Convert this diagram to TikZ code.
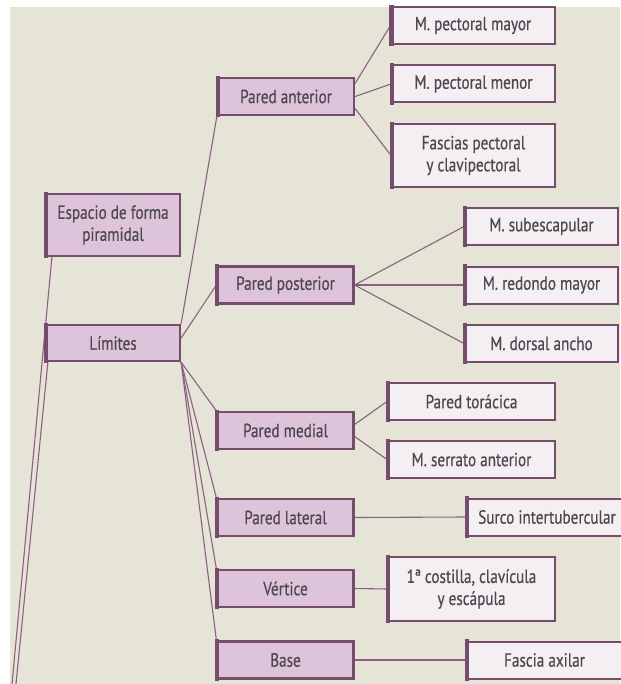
\documentclass[tikz,border=0pt]{standalone}
\usepackage{fontspec}
\setmainfont{PT Sans}[FakeStretch=0.8, FakeBold=0.5]
\definecolor{paper}{RGB}{230,228,214}
\definecolor{pfill}{RGB}{221,196,218}
\definecolor{cfill}{RGB}{244,239,242}
\definecolor{edge}{RGB}{118,76,108}
\definecolor{linkc}{RGB}{140,96,130}
\definecolor{txt}{RGB}{78,72,78}
\pgfdeclarelayer{back}
\pgfdeclarelayer{links}
\pgfsetlayers{back,links,main}
\begin{document}
\begin{tikzpicture}[x=1pt,y=-1pt,
  every node/.style={font=\fontsize{19}{22}\selectfont, text=txt, align=center, inner sep=0pt},
  box/.style={draw=edge, line width=2.2pt, minimum height=37pt},
  parent/.style={box, fill=pfill, minimum width=136pt},
  child/.style={box, fill=cfill, line width=2pt},
  link/.style={draw=linkc, line width=1.1pt}]
\useasboundingbox (0,0) rectangle (620,684);
\begin{pgfonlayer}{back}
  \fill[white] (0,0) rectangle (620,684);
  \fill[paper] (10,7) rectangle (620,684);
\end{pgfonlayer}

% first level
\node[parent, minimum width=134pt, minimum height=62pt] (esp) at (113,225) {Espacio de forma\\piramidal};
\node[parent, minimum width=134pt, minimum height=36pt] (lim) at (113,343) {Límites};

% walls
\node[parent] (pant)  at (286,96.5)  {Pared anterior};
\node[parent] (ppost) at (285.5,285) {Pared posterior};
\node[parent] (pmed)  at (285.5,430.5) {Pared medial};
\node[parent] (plat)  at (285.5,517.5) {Pared lateral};
\node[parent] (vert)  at (285.5,588.5) {Vértice};
\node[parent] (base)  at (285.5,660) {Base};

% contents of each wall
\node[child, minimum width=163pt] (pmay) at (473,25.5) {M. pectoral mayor};
\node[child, minimum width=163pt] (pmen) at (473.5,84) {M. pectoral menor};
\node[child, minimum width=163pt, minimum height=63pt] (fasc) at (473.5,155.5) {Fascias pectoral\\y clavipectoral};
\node[child, minimum width=153pt] (subesc) at (541.5,226.5) {M. subescapular};
\node[child, minimum width=153pt] (redon) at (541.5,285) {M. redondo mayor};
\node[child, minimum width=153pt] (dors) at (541.5,343.5) {M. dorsal ancho};
\node[child, minimum width=167pt] (torac) at (471.5,401.5) {Pared torácica};
\node[child, minimum width=167pt] (serr) at (471.5,459.5) {M. serrato anterior};
\node[child, minimum width=160pt] (surco) at (547,517) {Surco intertubercular};
\node[child, minimum width=167pt, minimum height=64pt] (cost) at (471.5,589) {1ª costilla, clavícula\\y escápula};
\node[child, minimum width=155pt] (fax) at (544.5,660) {Fascia axilar};

% thick bar on the left side of every box
\foreach \n in {esp,lim,pant,ppost,pmed,plat,vert,base,pmay,pmen,fasc,subesc,redon,dors,torac,serr,surco,cost,fax}
  \fill[edge] ([xshift=-1.1pt,yshift=1.1pt]\n.north west) rectangle ([xshift=3pt,yshift=-1.1pt]\n.south west);

% free ends of the lines leaving the page at the bottom
\coordinate (up1) at (12,684);
\coordinate (up2) at (16,684);

\begin{pgfonlayer}{links}
  \draw[link] ([xshift=7pt]esp.south west) -- (up1);
  \draw[link] ([xshift=3pt]lim.south west) -- (up2);
  \draw[link] (lim.north east) -- (pant.south west);
  \draw[link] ([yshift=5pt]lim.east) -- (ppost.west);
  \draw[link] (lim.south east) -- (pmed.north west);
  \draw[link] (lim.south east) -- (plat.north west);
  \draw[link] (lim.south east) -- (vert.north west);
  \draw[link] (lim.south east) -- (base.north west);
  \draw[link] ([yshift=13pt]pant.east) -- (pmay.west);
  \draw[link] (pant.east) -- (pmen.west);
  \draw[link] ([yshift=-12pt]pant.east) -- (fasc.west);
  \draw[link] (ppost.east) -- (subesc.west);
  \draw[link] (ppost.east) -- (redon.west);
  \draw[link] (ppost.east) -- (dors.west);
  \draw[link] ([yshift=6pt]pmed.east) -- (torac.west);
  \draw[link] ([yshift=-6pt]pmed.east) -- (serr.west);
  \draw[link] (plat.east) -- (surco.west);
  \draw[link] (vert.east) -- (cost.west);
  \draw[link] (base.east) -- (fax.west);
\end{pgfonlayer}
\end{tikzpicture}
\end{document}
